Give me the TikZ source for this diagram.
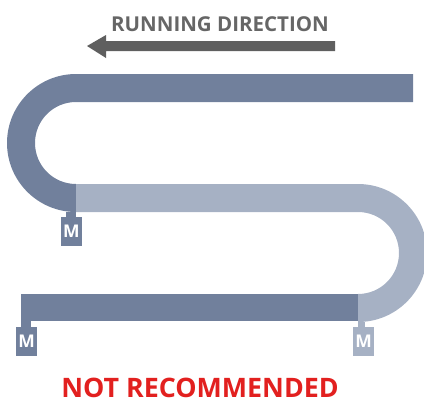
\documentclass[tikz,border=0pt]{standalone}
\usepackage{fontspec}
\setmainfont{Open Sans}
\definecolor{darkband}{HTML}{71809C}
\definecolor{lightband}{HTML}{A6B1C4}
\definecolor{arrowgrey}{HTML}{5F5F5F}
\definecolor{labelgrey}{HTML}{666666}
\definecolor{warnred}{HTML}{E2201F}
\tikzset{
  motorbox/.style={minimum width=21pt,minimum height=29pt,inner sep=0pt,text=white,font=\bfseries\fontsize{17.5}{17.5}\selectfont},
}
\begin{document}
\begin{tikzpicture}[x=1pt,y=-1pt]
\useasboundingbox (0,0) rectangle (424,399);
\begin{scope}
\clip (0,0) rectangle (424,399);
% top band and left loop
\fill[darkband] (413,74) -- (76,74) arc[start angle=-90,end angle=-270,radius=69] -- (76,184)
  arc[start angle=90,end angle=270,radius=41] -- (413,102) -- cycle;
% middle band and right loop
\fill[lightband] (76,184) -- (358,184) arc[start angle=-90,end angle=90,radius=69] -- (358,294)
  arc[start angle=90,end angle=-90,radius=41] -- (76,212) -- cycle;
% bottom band
\fill[darkband] (21,294) rectangle (358,321);
% stems
\fill[darkband] (66,212) rectangle (76,218);
\fill[darkband] (21,321) rectangle (31,328);
\fill[lightband] (358,322) rectangle (365,328);
\end{scope}
\node[motorbox,fill=darkband] (m1) at (71.5,231.5) {M};
\node[motorbox,fill=darkband] (m2) at (26.5,341.5) {M};
\node[motorbox,fill=lightband] (m3) at (363.5,341.5) {M};
% direction arrow
\fill[arrowgrey] (335,41) -- (106,41) -- (106,35) -- (87,46) -- (106,58) -- (106,51) -- (335,51) -- cycle;
\node[text=labelgrey,font=\fontsize{20.5}{20.5}\selectfont\bfseries,inner sep=0pt,anchor=base] (dir) at (220,31) {RUNNING DIRECTION};
\node[text=warnred,font=\fontsize{26.8}{26.8}\selectfont\bfseries,inner sep=0pt,anchor=base] (rec) at (200,397.5) {NOT RECOMMENDED};
\end{tikzpicture}
\end{document}
